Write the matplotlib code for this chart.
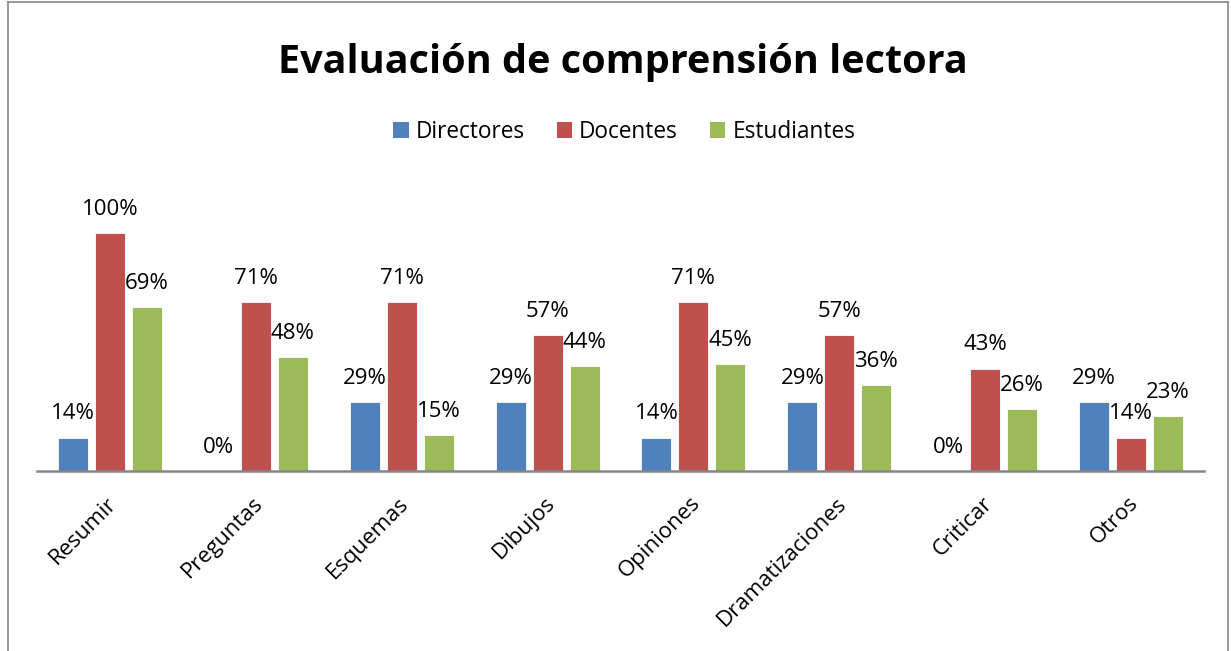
import numpy as np
import matplotlib.pyplot as plt
import matplotlib.transforms as mtransforms
from matplotlib.patches import Patch
from matplotlib.lines import Line2D

categorias = ['Resumir', 'Preguntas', 'Esquemas', 'Dibujos', 'Opiniones',
              'Dramatizaciones', 'Criticar', 'Otros']
directores = [14, 0, 29, 29, 14, 29, 0, 29]
docentes = [100, 71, 71, 57, 71, 57, 43, 14]
estudiantes = [69, 48, 15, 44, 45, 36, 26, 23]

series = ['Directores', 'Docentes', 'Estudiantes']
colores = ['#4F81BD', '#C0504D', '#9BBB59']

plt.rcParams['font.family'] = ['Open Sans', 'DejaVu Sans']

fig = plt.figure(figsize=(12.31, 6.51), dpi=100)
ax = fig.add_axes([37 / 1231, 180 / 651, 1167 / 1231, 285.6 / 651])

x = np.arange(len(categorias))
ancho = 0.205
desp = 0.2536
for i, (vals, color) in enumerate(zip([directores, docentes, estudiantes], colores)):
    pos = x + (i - 1) * desp
    ax.bar(pos, vals, width=ancho, color=color, edgecolor='white', linewidth=0.6)
    for p, v in zip(pos, vals):
        ax.annotate(f'{v}%', (p, v), xytext=(0, 9.5), textcoords='offset points',
                    ha='center', va='bottom', fontsize=16, color='black')

ax.set_xlim(-0.5, len(categorias) - 0.5)
ax.set_ylim(0, 120)
ax.set_yticks([])
ax.set_xticks(x)
ax.set_xticklabels(categorias, rotation=45, ha='right', va='center',
                   rotation_mode='anchor', fontsize=16)
ax.tick_params(axis='x', length=0, pad=21)
# pequeño desplazamiento a la derecha de las etiquetas
desplaz = mtransforms.ScaledTranslation(4 / 100, 0, fig.dpi_scale_trans)
for lbl in ax.get_xticklabels():
    lbl.set_transform(lbl.get_transform() + desplaz)
for s in ['top', 'right', 'left']:
    ax.spines[s].set_visible(False)
ax.spines['bottom'].set_color('#868686')
ax.spines['bottom'].set_linewidth(1.8)

fig.text(0.506, 1 - 62 / 651, 'Evaluación de comprensión lectora', ha='center', va='center',
         fontsize=28.5, fontweight='bold')

handles = [Patch(facecolor=c, label=s) for s, c in zip(series, colores)]
fig.legend(handles=handles, loc='center', bbox_to_anchor=(0.507, 1 - 132 / 651), ncol=3,
           frameon=False, fontsize=16.3, handlelength=0.7, handleheight=0.7,
           handletextpad=0.3, columnspacing=1.4)

# marco del gráfico
fig.add_artist(Line2D([8 / 1231, 8 / 1231], [0, 1 - 2 / 651], color='#888888', lw=1.2))
fig.add_artist(Line2D([8 / 1231, 1228 / 1231], [1 - 2 / 651, 1 - 2 / 651], color='#888888', lw=1.2))
fig.add_artist(Line2D([1228 / 1231, 1228 / 1231], [1 - 2 / 651, 0], color='#888888', lw=1.2))

fig.savefig('out.png', dpi=100)
